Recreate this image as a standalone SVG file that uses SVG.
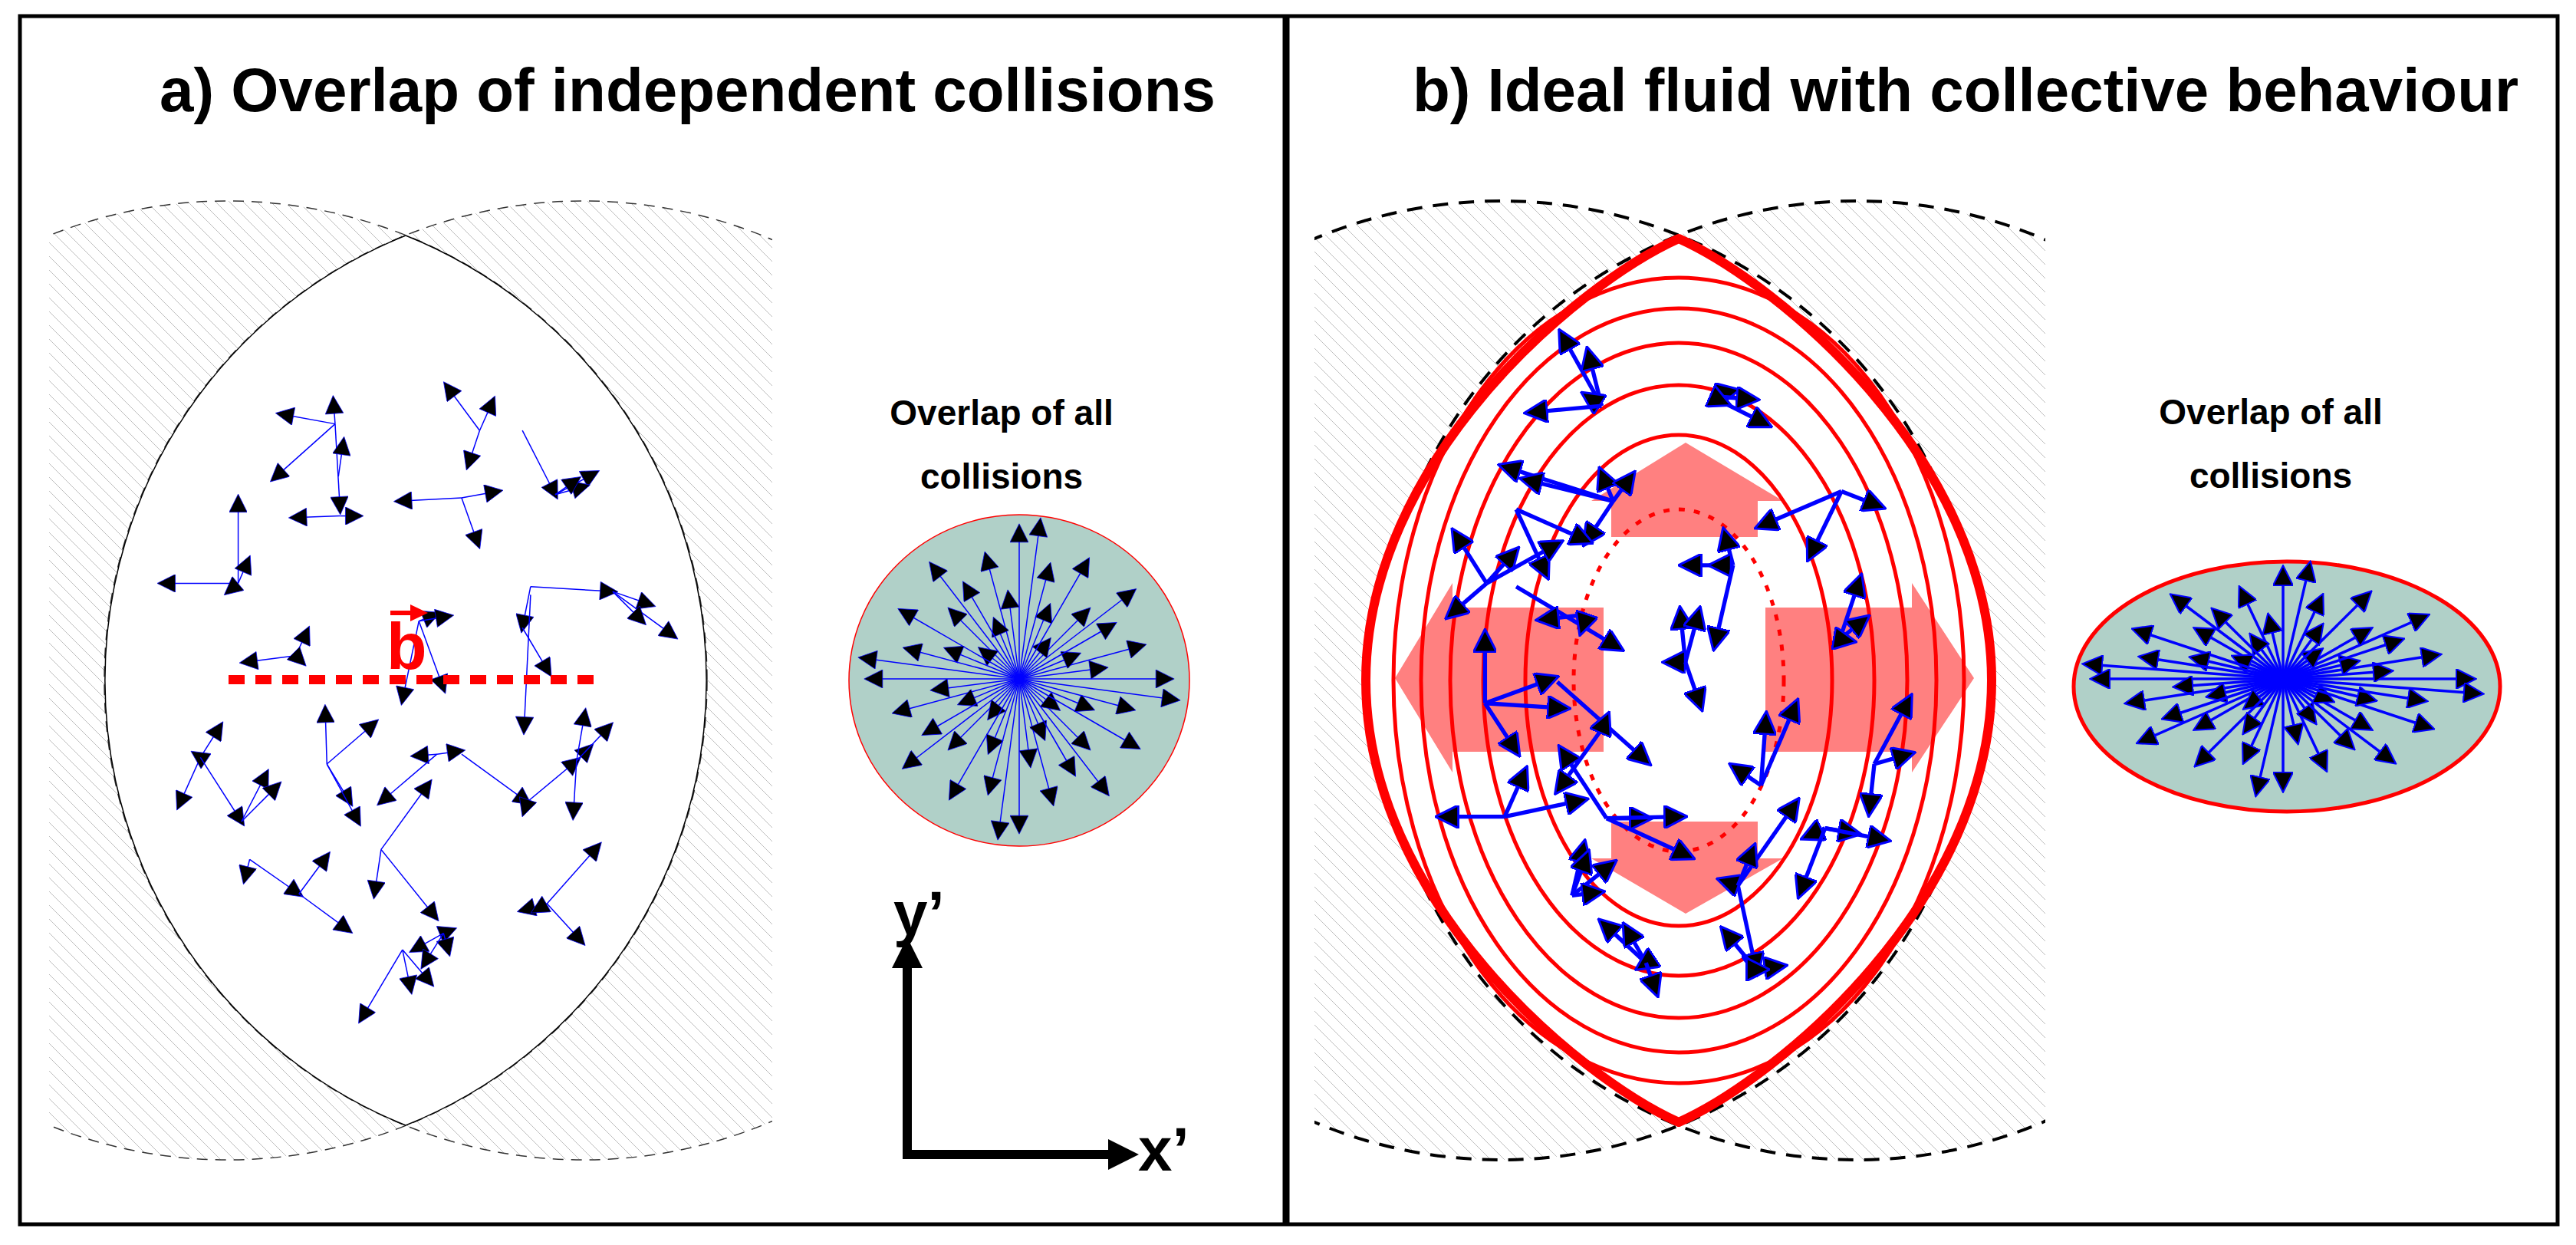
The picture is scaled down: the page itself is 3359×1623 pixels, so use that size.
<svg xmlns="http://www.w3.org/2000/svg" width="3359" height="1623" viewBox="0 0 3359 1623">
<style>
.t{font-family:"Liberation Sans",Arial,sans-serif;font-weight:bold;fill:#000}
.la line{stroke:#0000ff;stroke-width:0.7;marker-end:url(#ma)}
.lb line{stroke:#0000ff;stroke-width:2.5;marker-end:url(#mb)}
.ba line{stroke:#0000ff;stroke-width:1.5;marker-end:url(#mfa)}
.bb line{stroke:#0000ff;stroke-width:3.5;marker-end:url(#mfb)}
.con{fill:none;stroke:#ff0000;stroke-width:5}
</style>
<defs>
<pattern id="hatch" patternUnits="userSpaceOnUse" width="18" height="18">
<path d="M0,0 L18,18 M-9,9 L9,27 M9,-9 L27,9" stroke="#bdbdbd" stroke-width="1"/>
</pattern>
<marker id="ma" viewBox="0 0 10 10" refX="7" refY="5" markerUnits="userSpaceOnUse" markerWidth="12" markerHeight="11" orient="auto"><path d="M0,0 L10,5 L0,10 Z" fill="#000" stroke="#0000ff" stroke-width="0.3"/></marker>
<marker id="mb" viewBox="0 0 10 10" refX="7" refY="5" markerUnits="userSpaceOnUse" markerWidth="15" markerHeight="14" orient="auto"><path d="M0,0 L10,5 L0,10 Z" fill="#000" stroke="#0000ff" stroke-width="1"/></marker>
<marker id="mfa" viewBox="0 0 10 10" refX="7" refY="5" markerUnits="userSpaceOnUse" markerWidth="26" markerHeight="24" orient="auto"><path d="M0,0 L10,5 L0,10 Z" fill="#000" stroke="#0000ff" stroke-width="0.3"/></marker>
<marker id="mfb" viewBox="0 0 10 10" refX="7" refY="5" markerUnits="userSpaceOnUse" markerWidth="28" markerHeight="26" orient="auto"><path d="M0,0 L10,5 L0,10 Z" fill="#000" stroke="#0000ff" stroke-width="0.8"/></marker>
<clipPath id="ca"><rect x="64" y="0" width="943" height="1623"/></clipPath>
<clipPath id="cb"><rect x="1714" y="0" width="953" height="1623"/></clipPath>
</defs>
<rect width="3359" height="1623" fill="#fff"/>
<rect x="26" y="21" width="3309" height="1575" fill="none" stroke="#000" stroke-width="5"/>
<line x1="1677" y1="21" x2="1677" y2="1596" stroke="#000" stroke-width="9"/>

<g id="panel-a">
<g clip-path="url(#ca)">
<circle cx="297" cy="887" r="625" fill="url(#hatch)"/>
<circle cx="761" cy="887" r="625" fill="url(#hatch)"/>
<circle cx="297" cy="887" r="625" fill="none" stroke="#333" stroke-width="1.5" stroke-dasharray="14 10"/>
<circle cx="761" cy="887" r="625" fill="none" stroke="#333" stroke-width="1.5" stroke-dasharray="14 10"/>
</g>
<path d="M529,307 A625,625 0 0,1 529,1467 A625,625 0 0,1 529,307 Z" fill="#fff" stroke="#000" stroke-width="1.5"/>
<text class="t" x="208" y="145" font-size="80" textLength="1377" lengthAdjust="spacingAndGlyphs">a) Overlap of independent collisions</text>
</g>

<g id="collisions-a" class="la" transform="scale(2.142)">
<line x1="204" y1="258" x2="171" y2="252"/><line x1="204" y1="258" x2="203" y2="244"/><line x1="204" y1="258" x2="167" y2="291"/><line x1="204" y1="258" x2="207" y2="310"/><line x1="207" y1="314" x2="179" y2="315"/><line x1="207" y1="314" x2="218" y2="314"/><line x1="206" y1="290" x2="209" y2="269"/>
<line x1="292" y1="262" x2="272" y2="235"/><line x1="292" y1="262" x2="300" y2="244"/><line x1="292" y1="262" x2="285" y2="283"/>
<line x1="318" y1="262" x2="338" y2="301"/><line x1="338" y1="301" x2="362" y2="288"/><line x1="338" y1="301" x2="356" y2="296"/><line x1="338" y1="301" x2="351" y2="292"/>
<line x1="281" y1="303" x2="243" y2="305"/><line x1="281" y1="303" x2="303" y2="299"/><line x1="281" y1="303" x2="291" y2="331"/>
<line x1="145" y1="355" x2="99" y2="355"/><line x1="145" y1="355" x2="145" y2="304"/><line x1="145" y1="355" x2="151" y2="341"/><line x1="145" y1="355" x2="139" y2="360"/>
<line x1="255" y1="378" x2="265" y2="374"/><line x1="255" y1="378" x2="273" y2="375"/><line x1="255" y1="378" x2="270" y2="419"/><line x1="255" y1="378" x2="245" y2="426"/>
<line x1="180" y1="399" x2="149" y2="403"/><line x1="180" y1="399" x2="187" y2="384"/><line x1="180" y1="399" x2="184" y2="403"/>
<line x1="323" y1="357" x2="373" y2="360"/><line x1="373" y1="360" x2="396" y2="368"/><line x1="373" y1="360" x2="410" y2="387"/><line x1="373" y1="360" x2="391" y2="378"/><line x1="323" y1="357" x2="318" y2="382"/><line x1="318" y1="382" x2="334" y2="409"/><line x1="323" y1="362" x2="319" y2="444"/>
<line x1="122" y1="461" x2="109" y2="490"/><line x1="122" y1="461" x2="134" y2="442"/><line x1="122" y1="461" x2="119" y2="459"/><line x1="122" y1="461" x2="147" y2="500"/><line x1="147" y1="500" x2="162" y2="471"/><line x1="147" y1="500" x2="169" y2="478"/>
<line x1="199" y1="465" x2="198" y2="432"/><line x1="199" y1="465" x2="228" y2="440"/><line x1="199" y1="465" x2="213" y2="488"/><line x1="199" y1="465" x2="218" y2="500"/>
<line x1="266" y1="459" x2="253" y2="460"/><line x1="266" y1="459" x2="232" y2="488"/><line x1="266" y1="459" x2="280" y2="457"/>
<line x1="281" y1="459" x2="321" y2="488"/><line x1="321" y1="488" x2="351" y2="463"/><line x1="351" y1="463" x2="359" y2="455"/><line x1="351" y1="463" x2="371" y2="442"/><line x1="351" y1="463" x2="356" y2="434"/><line x1="351" y1="463" x2="349" y2="496"/><line x1="321" y1="488" x2="319" y2="494"/>
<line x1="232" y1="517" x2="261" y2="477"/><line x1="232" y1="517" x2="228" y2="544"/><line x1="232" y1="517" x2="265" y2="558"/>
<line x1="152" y1="523" x2="149" y2="535"/><line x1="152" y1="523" x2="182" y2="544"/><line x1="182" y1="544" x2="199" y2="521"/><line x1="182" y1="544" x2="212" y2="566"/>
<line x1="270" y1="568" x2="275" y2="566"/><line x1="270" y1="568" x2="252" y2="578"/><line x1="270" y1="568" x2="273" y2="579"/><line x1="270" y1="568" x2="258" y2="587"/><line x1="245" y1="578" x2="220" y2="620"/><line x1="245" y1="578" x2="262" y2="598"/><line x1="245" y1="578" x2="250" y2="602"/>
<line x1="333" y1="550" x2="364" y2="515"/><line x1="333" y1="550" x2="354" y2="573"/><line x1="333" y1="550" x2="318" y2="554"/><line x1="333" y1="550" x2="326" y2="554"/>
</g>

<g id="impact-parameter">
<line x1="298" y1="886" x2="780" y2="886" stroke="#ff0000" stroke-width="12" stroke-dasharray="21 14"/>
<line x1="509" y1="799" x2="540" y2="799" stroke="#ff0000" stroke-width="6"/>
<path d="M535,788 L558,799 L535,810 Z" fill="#ff0000"/>
<text x="504" y="872" font-size="86" font-family="Liberation Sans,Arial,sans-serif" font-weight="bold" fill="#ff0000">b</text>
</g>

<g id="overlap-a">
<ellipse cx="1329" cy="887" rx="222" ry="216" fill="#b0d0c8" stroke="#ff0000" stroke-width="1.5"/>
<text class="t" x="1306" y="554" font-size="46" text-anchor="middle">Overlap of all</text>
<text class="t" x="1306" y="637" font-size="46" text-anchor="middle">collisions</text>
<g class="ba" transform="translate(1329,885)">
<line x1="0" y1="0" x2="195" y2="0"/><line x1="0" y1="0" x2="109" y2="-14"/><line x1="0" y1="0" x2="159" y2="-43"/><line x1="0" y1="0" x2="74" y2="-31"/><line x1="0" y1="0" x2="121" y2="-70"/><line x1="0" y1="0" x2="147" y2="-113"/><line x1="0" y1="0" x2="88" y2="-88"/><line x1="0" y1="0" x2="37" y2="-48"/><line x1="0" y1="0" x2="88" y2="-152"/><line x1="0" y1="0" x2="38" y2="-92"/><line x1="0" y1="0" x2="39" y2="-145"/><line x1="0" y1="0" x2="27" y2="-203"/>
<line x1="0" y1="0" x2="0" y2="-195"/><line x1="0" y1="0" x2="-14" y2="-109"/><line x1="0" y1="0" x2="-43" y2="-159"/><line x1="0" y1="0" x2="-31" y2="-74"/><line x1="0" y1="0" x2="-70" y2="-121"/><line x1="0" y1="0" x2="-113" y2="-147"/><line x1="0" y1="0" x2="-88" y2="-88"/><line x1="0" y1="0" x2="-48" y2="-37"/><line x1="0" y1="0" x2="-152" y2="-88"/><line x1="0" y1="0" x2="-92" y2="-38"/><line x1="0" y1="0" x2="-145" y2="-39"/><line x1="0" y1="0" x2="-203" y2="-27"/>
<line x1="0" y1="0" x2="-195" y2="0"/><line x1="0" y1="0" x2="-109" y2="14"/><line x1="0" y1="0" x2="-159" y2="43"/><line x1="0" y1="0" x2="-74" y2="31"/><line x1="0" y1="0" x2="-121" y2="70"/><line x1="0" y1="0" x2="-147" y2="113"/><line x1="0" y1="0" x2="-88" y2="88"/><line x1="0" y1="0" x2="-37" y2="48"/><line x1="0" y1="0" x2="-88" y2="152"/><line x1="0" y1="0" x2="-38" y2="92"/><line x1="0" y1="0" x2="-39" y2="145"/><line x1="0" y1="0" x2="-27" y2="203"/>
<line x1="0" y1="0" x2="0" y2="195"/><line x1="0" y1="0" x2="14" y2="109"/><line x1="0" y1="0" x2="43" y2="159"/><line x1="0" y1="0" x2="31" y2="74"/><line x1="0" y1="0" x2="70" y2="121"/><line x1="0" y1="0" x2="113" y2="147"/><line x1="0" y1="0" x2="88" y2="88"/><line x1="0" y1="0" x2="48" y2="37"/><line x1="0" y1="0" x2="152" y2="88"/><line x1="0" y1="0" x2="92" y2="38"/><line x1="0" y1="0" x2="145" y2="39"/><line x1="0" y1="0" x2="203" y2="27"/>
</g>
</g>

<g id="axes">
<line x1="1183" y1="1250" x2="1183" y2="1511" stroke="#000" stroke-width="12"/>
<path d="M1163,1262 L1183,1222 L1203,1262 Z" fill="#000"/>
<line x1="1177" y1="1505" x2="1450" y2="1505" stroke="#000" stroke-width="12"/>
<path d="M1445,1485 L1485,1505 L1445,1525 Z" fill="#000"/>
<text class="t" x="1165" y="1218" font-size="80">y’</text>
<text class="t" x="1484" y="1526" font-size="80">x’</text>
</g>

<g id="panel-b">
<g clip-path="url(#cb)">
<circle cx="1957" cy="887" r="625" fill="url(#hatch)"/>
<circle cx="2421" cy="887" r="625" fill="url(#hatch)"/>
<circle cx="1957" cy="887" r="625" fill="none" stroke="#000" stroke-width="4" stroke-dasharray="20 14"/>
<circle cx="2421" cy="887" r="625" fill="none" stroke="#000" stroke-width="4" stroke-dasharray="20 14"/>
</g>
<path d="M2189,311 C2320,370 2597,600 2597,887 C2597,1174 2320,1404 2189,1463 C2058,1404 1781,1174 1781,887 C1781,600 2058,370 2189,311 Z" fill="#fff"/>
<text class="t" x="1842" y="145" font-size="80" textLength="1442" lengthAdjust="spacingAndGlyphs">b) Ideal fluid with collective behaviour</text>
</g>

<g id="flow-arrows" fill="#ff8080">
<path d="M2091,792 L1894,792 L1894,760 L1819,884 L1894,1007 L1894,980 L2091,980 Z"/>
<path d="M2302,792 L2493,792 L2493,760 L2574,884 L2493,1007 L2493,980 L2302,980 Z"/>
<path d="M2101,700 L2101,653 L2075,653 L2198,577 L2325,653 L2292,653 L2292,700 Z"/>
<path d="M2101,1071 L2101,1119 L2075,1119 L2198,1191 L2325,1119 L2292,1119 L2292,1071 Z"/>
</g>

<g id="contours">
<path d="M2189,311 C2320,370 2597,600 2597,887 C2597,1174 2320,1404 2189,1463 C2058,1404 1781,1174 1781,887 C1781,600 2058,370 2189,311 Z" class="con" style="stroke-width:12" stroke-linejoin="round"/>
<ellipse cx="2189" cy="887" rx="372" ry="525" class="con"/>
<ellipse cx="2189" cy="887" rx="336" ry="485" class="con"/>
<ellipse cx="2189" cy="887" rx="298" ry="440" class="con"/>
<ellipse cx="2189" cy="887" rx="255" ry="385" class="con"/>
<ellipse cx="2189" cy="887" rx="200" ry="320" class="con"/>
<ellipse cx="2189" cy="887" rx="137" ry="223" class="con" stroke-dasharray="8 12"/>
</g>

<g id="collisions-b" class="lb" transform="scale(2.142)">
<line x1="975" y1="247" x2="951" y2="204"/><line x1="975" y1="247" x2="967" y2="215"/><line x1="975" y1="247" x2="966" y2="241"/><line x1="975" y1="247" x2="932" y2="251"/>
<line x1="1041" y1="241" x2="1055" y2="238"/><line x1="1041" y1="241" x2="1067" y2="243"/><line x1="1041" y1="241" x2="1075" y2="258"/><line x1="1041" y1="241" x2="1050" y2="245"/>
<line x1="982" y1="305" x2="916" y2="284"/><line x1="982" y1="305" x2="929" y2="292"/><line x1="982" y1="305" x2="975" y2="288"/><line x1="982" y1="305" x2="993" y2="290"/><line x1="982" y1="305" x2="966" y2="329"/><line x1="923" y1="310" x2="966" y2="329"/><line x1="923" y1="310" x2="941" y2="349"/>
<line x1="905" y1="355" x2="886" y2="325"/><line x1="905" y1="355" x2="922" y2="336"/><line x1="905" y1="355" x2="948" y2="331"/><line x1="905" y1="355" x2="883" y2="374"/><line x1="923" y1="357" x2="985" y2="394"/>
<line x1="966" y1="374" x2="939" y2="377"/><line x1="966" y1="374" x2="963" y2="383"/>
<line x1="904" y1="428" x2="904" y2="387"/><line x1="904" y1="428" x2="945" y2="413"/><line x1="904" y1="428" x2="952" y2="431"/><line x1="904" y1="428" x2="923" y2="457"/>
<line x1="948" y1="415" x2="1002" y2="463"/><line x1="975" y1="444" x2="949" y2="480"/><line x1="975" y1="444" x2="978" y2="437"/>
<line x1="916" y1="497" x2="878" y2="497"/><line x1="916" y1="497" x2="928" y2="470"/><line x1="916" y1="497" x2="963" y2="487"/>
<line x1="978" y1="498" x2="951" y2="457"/><line x1="978" y1="498" x2="1002" y2="498"/><line x1="978" y1="498" x2="1023" y2="497"/><line x1="978" y1="498" x2="1028" y2="521"/>
<line x1="957" y1="545" x2="964" y2="515"/><line x1="957" y1="545" x2="966" y2="521"/><line x1="957" y1="545" x2="981" y2="526"/><line x1="957" y1="545" x2="973" y2="543"/>
<line x1="1002" y1="586" x2="976" y2="562"/><line x1="1002" y1="586" x2="990" y2="565"/><line x1="1002" y1="586" x2="999" y2="588"/><line x1="1002" y1="586" x2="1008" y2="603"/>
<line x1="1058" y1="539" x2="1069" y2="590"/><line x1="1069" y1="590" x2="1050" y2="567"/><line x1="1069" y1="590" x2="1084" y2="588"/><line x1="1069" y1="590" x2="1073" y2="590"/>
<line x1="1058" y1="539" x2="1049" y2="536"/><line x1="1058" y1="539" x2="1093" y2="489"/><line x1="1058" y1="539" x2="1067" y2="517"/>
<line x1="1111" y1="504" x2="1100" y2="509"/><line x1="1111" y1="504" x2="1129" y2="507"/><line x1="1111" y1="504" x2="1147" y2="511"/><line x1="1111" y1="504" x2="1096" y2="543"/>
<line x1="1141" y1="465" x2="1162" y2="426"/><line x1="1141" y1="465" x2="1162" y2="459"/><line x1="1141" y1="465" x2="1138" y2="493"/>
<line x1="1072" y1="478" x2="1075" y2="437"/><line x1="1072" y1="478" x2="1093" y2="429"/><line x1="1072" y1="478" x2="1056" y2="467"/>
<line x1="1121" y1="299" x2="1072" y2="320"/><line x1="1121" y1="299" x2="1144" y2="308"/><line x1="1121" y1="299" x2="1102" y2="338"/>
<line x1="1120" y1="389" x2="1132" y2="353"/><line x1="1120" y1="389" x2="1135" y2="377"/><line x1="1120" y1="389" x2="1126" y2="390"/>
<line x1="1055" y1="344" x2="1050" y2="325"/><line x1="1055" y1="344" x2="1026" y2="344"/><line x1="1055" y1="344" x2="1044" y2="344"/><line x1="1055" y1="344" x2="1044" y2="392"/>
<line x1="1026" y1="403" x2="1023" y2="373"/><line x1="1026" y1="403" x2="1034" y2="373"/><line x1="1026" y1="403" x2="1016" y2="403"/><line x1="1026" y1="403" x2="1035" y2="429"/>
</g>

<g id="overlap-b">
<ellipse cx="2982" cy="895" rx="278" ry="163" fill="#b0d0c8" stroke="#ff0000" stroke-width="5"/>
<text class="t" x="2961" y="553" font-size="46" text-anchor="middle">Overlap of all</text>
<text class="t" x="2961" y="636" font-size="46" text-anchor="middle">collisions</text>
<g class="bb" transform="translate(2977,885)">
<line x1="0" y1="0" x2="244" y2="0"/><line x1="0" y1="0" x2="136" y2="-10"/><line x1="0" y1="0" x2="199" y2="-31"/><line x1="0" y1="0" x2="93" y2="-22"/><line x1="0" y1="0" x2="151" y2="-50"/><line x1="0" y1="0" x2="184" y2="-81"/><line x1="0" y1="0" x2="110" y2="-63"/><line x1="0" y1="0" x2="46" y2="-35"/><line x1="0" y1="0" x2="110" y2="-109"/><line x1="0" y1="0" x2="48" y2="-66"/><line x1="0" y1="0" x2="49" y2="-104"/><line x1="0" y1="0" x2="34" y2="-146"/>
<line x1="0" y1="0" x2="0" y2="-140"/><line x1="0" y1="0" x2="-18" y2="-78"/><line x1="0" y1="0" x2="-54" y2="-114"/><line x1="0" y1="0" x2="-39" y2="-53"/><line x1="0" y1="0" x2="-88" y2="-87"/><line x1="0" y1="0" x2="-141" y2="-106"/><line x1="0" y1="0" x2="-110" y2="-63"/><line x1="0" y1="0" x2="-60" y2="-27"/><line x1="0" y1="0" x2="-190" y2="-63"/><line x1="0" y1="0" x2="-115" y2="-27"/><line x1="0" y1="0" x2="-181" y2="-28"/><line x1="0" y1="0" x2="-254" y2="-19"/>
<line x1="0" y1="0" x2="-244" y2="0"/><line x1="0" y1="0" x2="-136" y2="10"/><line x1="0" y1="0" x2="-199" y2="31"/><line x1="0" y1="0" x2="-93" y2="22"/><line x1="0" y1="0" x2="-151" y2="50"/><line x1="0" y1="0" x2="-184" y2="81"/><line x1="0" y1="0" x2="-110" y2="63"/><line x1="0" y1="0" x2="-46" y2="35"/><line x1="0" y1="0" x2="-110" y2="109"/><line x1="0" y1="0" x2="-48" y2="66"/><line x1="0" y1="0" x2="-49" y2="104"/><line x1="0" y1="0" x2="-34" y2="146"/>
<line x1="0" y1="0" x2="0" y2="140"/><line x1="0" y1="0" x2="18" y2="78"/><line x1="0" y1="0" x2="54" y2="114"/><line x1="0" y1="0" x2="39" y2="53"/><line x1="0" y1="0" x2="88" y2="87"/><line x1="0" y1="0" x2="141" y2="106"/><line x1="0" y1="0" x2="110" y2="63"/><line x1="0" y1="0" x2="60" y2="27"/><line x1="0" y1="0" x2="190" y2="63"/><line x1="0" y1="0" x2="115" y2="27"/><line x1="0" y1="0" x2="181" y2="28"/><line x1="0" y1="0" x2="254" y2="19"/>
</g>
</g>
</svg>
